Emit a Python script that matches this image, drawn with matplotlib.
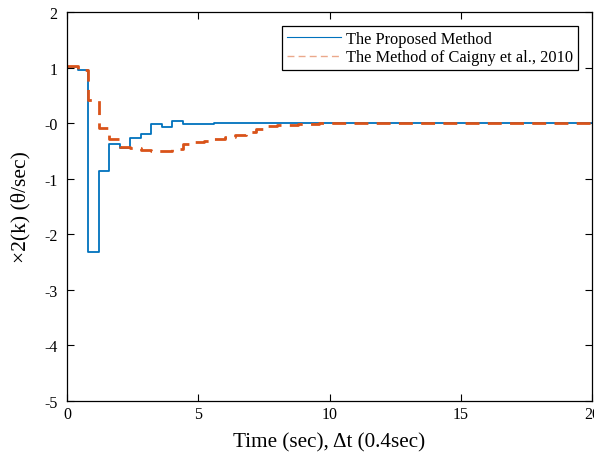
import numpy as np
import matplotlib.pyplot as plt

# sample time, step of 0.4 sec
dt = 0.4
t = np.arange(51) * dt

proposed = [1.01, 0.955, -2.32, -0.865, -0.385, -0.445, -0.265, -0.20, -0.02, -0.065,
            0.04, -0.025, -0.01, -0.01, 0.0, 0.0, 0.0, 0.0, 0.0, 0.0,
            0.0, 0.0, 0.0, 0.0, 0.0, 0.0, 0.0, 0.0, 0.0, 0.0,
            0.0, 0.0, 0.0, 0.0, 0.0, 0.0, 0.0, 0.0, 0.0, 0.0,
            0.0, 0.0, 0.0, 0.0, 0.0, 0.0, 0.0, 0.0, 0.0, 0.0, 0.0]

caigny = [1.02, 0.96, 0.41, -0.09, -0.29, -0.43, -0.45, -0.48, -0.50, -0.50,
          -0.46, -0.38, -0.34, -0.32, -0.28, -0.25, -0.21, -0.16, -0.11, -0.05,
          -0.035, -0.03, -0.02, -0.01, 0.0, 0.0, 0.0, 0.01, 0.01, 0.0,
          0.0, 0.0, 0.0, 0.0, 0.0, 0.0, 0.0, 0.0, 0.0, 0.0,
          0.0, 0.0, 0.0, 0.0, 0.0, 0.0, 0.0, 0.0, 0.0, 0.0, 0.0]

yticks = [-5, -4, -3, -2, -1, 0, 1, 2]
ytick_labels = ['-5', '-4', '-3', '-2', '-1', '-0', '1', '2']
xticks = [0, 5, 10, 15, 20]

plt.rcParams['font.family'] = ['Liberation Serif', 'DejaVu Serif']

fig = plt.figure(figsize=(5.94, 4.6), dpi=100)
ax = fig.add_axes([0.1128, 0.1267, 0.884, 0.845])

ax.step(t, proposed, where='post', color='#0072BD', lw=1.3, label='The Proposed Method')
ax.step(t, caigny, where='post', color='#D95319', lw=2.0, ls=(0, (5, 3)),
        label='The Method of Caigny et al., 2010')

ax.set_xlim(0, 20)
ax.set_ylim(-5, 2)
ax.set_xticks(xticks)
ax.set_yticks(yticks)
ax.set_yticklabels(ytick_labels)
ax.tick_params(direction='in', length=5, width=0.8, labelsize=11.5, top=True, right=True)
ax.tick_params(axis='y', pad=7)
ax.tick_params(axis='x', pad=4)
for s in ax.spines.values():
    s.set_linewidth(0.9)

ax.set_xlabel('Time (sec), \u0394t (0.4sec)', fontsize=15.2, labelpad=7)
ax.set_ylabel('\u00d72(k) (\u03b8/sec)', fontsize=15.5, labelpad=10)

leg = ax.legend(loc='upper right', fontsize=11.8, fancybox=False, framealpha=1,
                edgecolor='black', borderaxespad=0.85, handlelength=3.3,
                borderpad=0.3, labelspacing=0.15, handletextpad=0.3)
leg.get_frame().set_linewidth(0.9)
leg.get_lines()[0].set_linewidth(0.8)
leg.get_lines()[1].set_linewidth(1.0)
leg.get_lines()[1].set_alpha(0.5)

fig.savefig('out.png', dpi=100)
